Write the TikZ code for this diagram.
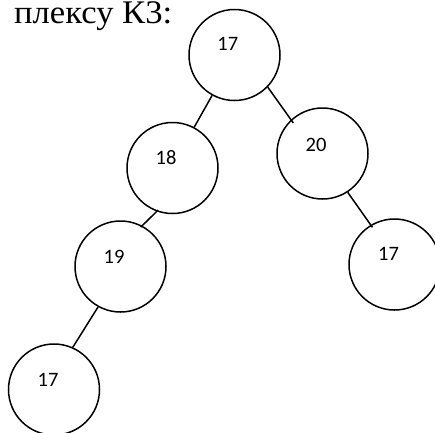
\documentclass[tikz,border=0pt]{standalone}
\usepackage{fontspec}
\setmainfont{Liberation Serif}
\newfontfamily\numfont{Carlito}
\begin{document}
\begin{tikzpicture}[x=1pt,y=-1pt,
  vertex/.style={draw,circle,line width=1.5pt,minimum size=91pt,inner sep=0pt},
  num/.style={font=\numfont\fontsize{20.5}{24}\selectfont,inner sep=0pt},
  edge/.style={line width=1.5pt}]
  \useasboundingbox (0,0) rectangle (435,432);
  \clip (0,0) rectangle (435,432);

  % caption line
  \node[anchor=base east,inner sep=0pt,font=\fontsize{33}{38}\selectfont] (cap) at (172.5,23) {\scalebox{1.05}[1]{плексу К3:}};

  % tree vertices
  \node[vertex] (r)  at (234.5,55)    {};
  \node[vertex] (a)  at (172.5,168)   {};
  \node[vertex] (b)  at (322.5,153.5) {};
  \node[vertex] (c)  at (120.5,266.5) {};
  \node[vertex] (d)  at (394.5,264.5) {};
  \node[vertex] (e)  at (54,389.5)    {};

  % vertex values, set above and left of centre
  \node[num] (tr) at ([shift={(-6.7,-11)}]r.center) {17};
  \node[num] (ta) at ([shift={(-6.5,-10)}]a.center) {18};
  \node[num] (tb) at ([shift={(-6.5,-9)}]b.center)  {20};
  \node[num] (tc) at ([shift={(-6.5,-10)}]c.center) {19};
  \node[num] (td) at ([shift={(-6,-10.5)}]d.center) {17};
  \node[num] (te) at ([shift={(-6,-9.5)}]e.center)  {17};

  % edges
  \draw[edge] (r.-119.7) -- (a.62.3);
  \draw[edge,shorten >=-4pt] (r.-44) -- (b.133);
  \draw[edge,shorten <=-2pt,shorten >=-2pt] (a.-110.7) -- (c.62.3);
  \draw[edge,shorten >=-3pt] (b.-57.7) -- (d.121);
  \draw[edge] (c.-119.2) -- (e.66.8);
\end{tikzpicture}
\end{document}
